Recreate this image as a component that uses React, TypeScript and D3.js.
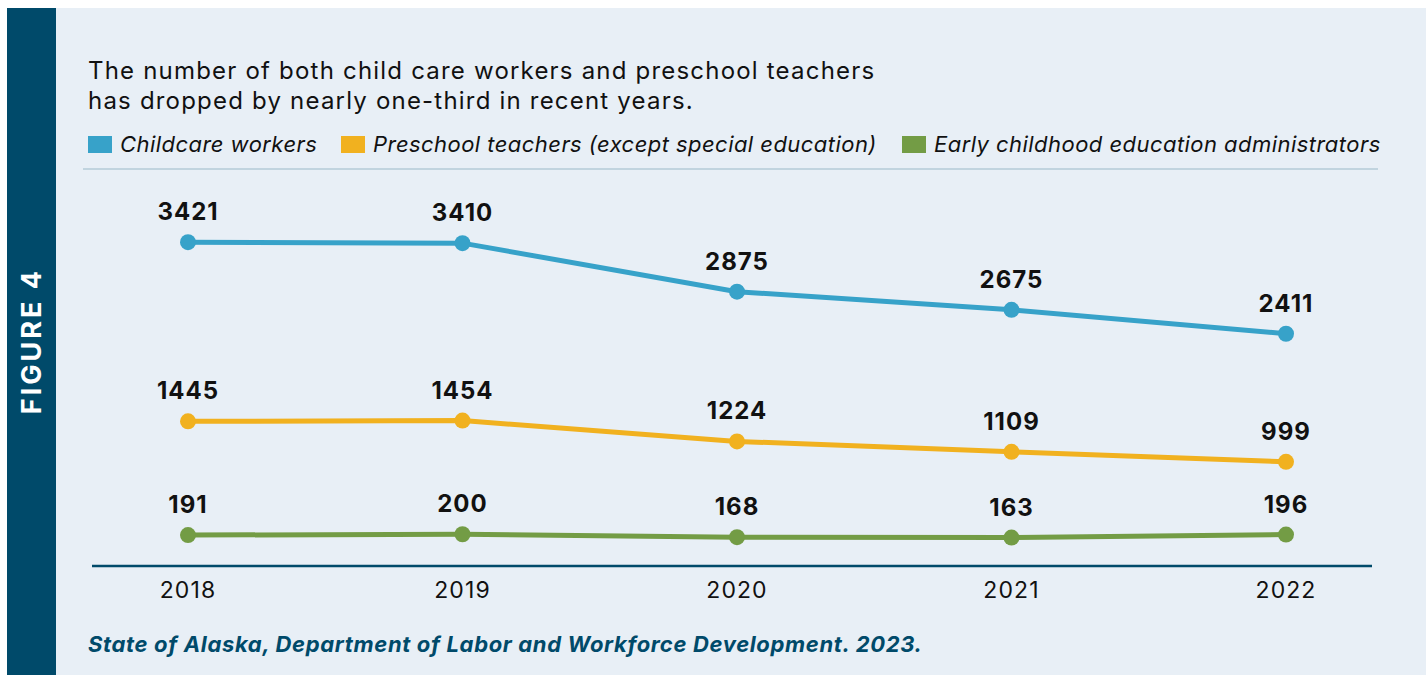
import React from "react";
import * as d3 from "d3";

const years = ["2018", "2019", "2020", "2021", "2022"];
const childcare = [3421, 3410, 2875, 2675, 2411];
const preschool = [1445, 1454, 1224, 1109, 999];
const admins = [191, 200, 168, 163, 196];
const seriesNames = [
  "Childcare workers",
  "Preschool teachers (except special education)",
  "Early childhood education administrators",
];
const seriesColors = ["#37a2c9", "#f1b11f", "#739c45"];
const titleLines = [
  "The number of both child care workers and preschool teachers",
  "has dropped by nearly one-third in recent years.",
];
const sourceText = "State of Alaska, Department of Labor and Workforce Development. 2023.";

const W = 1426;
const H = 675;

export default function App() {
  const x = d3.scalePoint<string>().domain(years).range([188, 1286]);
  const y = d3.scaleLinear().domain([-150, 3500]).range([566, 235]);
  const data = [childcare, preschool, admins];
  const line = d3
    .line<number>()
    .x((_, i) => x(years[i]) as number)
    .y((d) => y(d));

  const legendX = [88, 341, 902];
  const font = "Inter, 'Noto Sans', sans-serif";

  return (
    <svg
      width={W}
      height={H}
      style={{ position: "absolute", left: 0, top: 0, display: "block" }}
      fontFamily={font}
    >
      <rect x={0} y={0} width={W} height={H} fill="#ffffff" />
      <rect x={7} y={8} width={W - 7} height={H - 8} fill="#e8eff6" />
      <rect x={7} y={8} width={49} height={H - 8} fill="#004a6a" />
      <text
        transform="translate(41,341) rotate(-90)"
        textAnchor="middle"
        fill="#ffffff"
        fontWeight={700}
        fontSize={27}
        letterSpacing={3}
      >
        FIGURE 4
      </text>

      {titleLines.map((t, i) => (
        <text key={i} x={88} y={79 + i * 30} fontSize={24} letterSpacing={1.2} fill="#111">
          {t}
        </text>
      ))}

      {seriesNames.map((n, i) => (
        <g key={n}>
          <rect x={legendX[i]} y={136} width={24} height={17} fill={seriesColors[i]} />
          <text
            x={legendX[i] + 32}
            y={152}
            fontSize={22}
            letterSpacing={0.45}
            fontStyle="italic"
            fill="#111"
          >
            {n}
          </text>
        </g>
      ))}
      <line x1={83} x2={1378} y1={169} y2={169} stroke="#c1d4df" strokeWidth={2} />

      {data.map((s, si) => (
        <g key={si}>
          <path d={line(s) || ""} fill="none" stroke={seriesColors[si]} strokeWidth={5} />
          {s.map((v, i) => (
            <g key={i}>
              <circle cx={x(years[i])} cy={y(v)} r={8} fill={seriesColors[si]} />
              <text
                x={x(years[i])}
                y={y(v) - 22}
                textAnchor="middle"
                fontSize={24}
                letterSpacing={1}
                fontWeight={700}
                fill="#111"
              >
                {v}
              </text>
            </g>
          ))}
        </g>
      ))}

      <line x1={92} x2={1372} y1={y(-150)} y2={y(-150)} stroke="#004a6a" strokeWidth={2.5} />
      {years.map((yr) => (
        <text
          key={yr}
          x={x(yr)}
          y={598}
          textAnchor="middle"
          fontSize={23}
          letterSpacing={1.1}
          fill="#111"
        >
          {yr}
        </text>
      ))}

      <text
        x={88}
        y={652}
        fontSize={22}
        letterSpacing={0.65}
        fontWeight={700}
        fontStyle="italic"
        fill="#004a6a"
      >
        {sourceText}
      </text>
    </svg>
  );
}
